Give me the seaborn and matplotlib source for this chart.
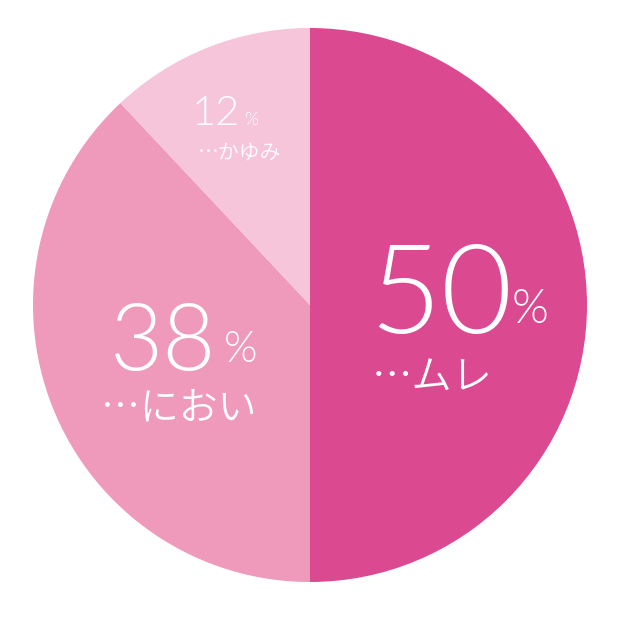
import matplotlib
matplotlib.use("Agg")
import matplotlib.pyplot as plt
import seaborn as sns

# data
labels = ["ムレ", "におい", "かゆみ"]
shares = [50, 38, 12]
colors = ["#DB4A91", "#EF9ABB", "#F6C5DA"]

sns.set_style("white")
plt.rcParams["font.family"] = ["Noto Sans CJK JP", "DejaVu Sans"]

W = H = 620
fig = plt.figure(figsize=(6.2, 6.2), dpi=100)
fig.patch.set_facecolor("white")

cx, cy, r = 310, 305, 277
ax = fig.add_axes([(cx - r) / W, 1 - (cy + r) / H, 2 * r / W, 2 * r / H])
ax.pie(shares, colors=colors, startangle=90, counterclock=False,
       wedgeprops=dict(linewidth=0))
ax.set_xlim(-1, 1)
ax.set_ylim(-1, 1)
ax.set_aspect("equal")
ax.axis("off")


def put(x, y, s, size, family, weight):
    fig.text(x / W, 1 - y / H, s, fontsize=size, color="white", family=family,
             ha="left", va="baseline", fontweight=weight)


num_font = ["Lato", "DejaVu Sans"]
jp_font = ["Noto Sans CJK JP", "DejaVu Sans"]

# label layout: (number x, baseline y, size, % x, % y, % size, name x, name y, name size)
layout = [
    (369, 333, 89, 512, 323, 34, 372, 390, 29),
    (110, 370, 66, 224, 362, 31, 101, 419, 28),
    (192, 125, 30, 244, 125, 13, 198, 159, 15),
]

for lab, val, lo in zip(labels, shares, layout):
    nx, ny, ns, px, py, ps, tx, ty, ts = lo
    put(nx, ny, str(val), ns, num_font, 300)
    put(px, py, "%", ps, num_font, 300)
    put(tx, ty, "…" + lab, ts, jp_font, 350)

fig.savefig("out.png", dpi=100, facecolor="white")
